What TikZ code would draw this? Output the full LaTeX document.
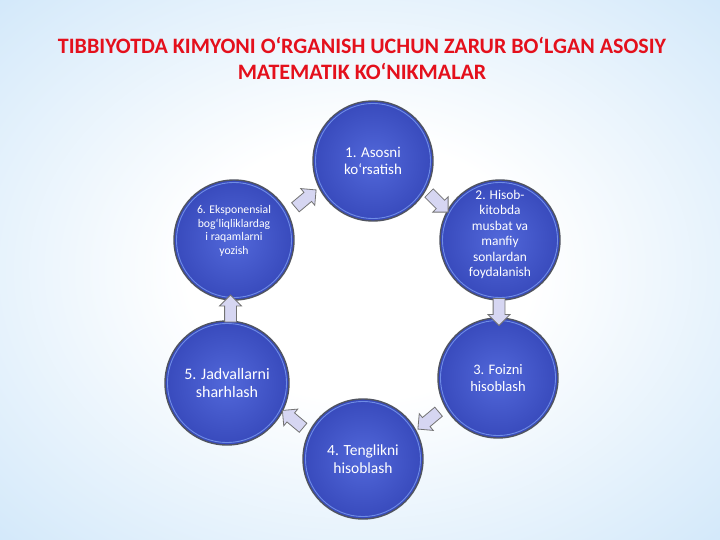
\documentclass[tikz,border=0pt]{standalone}
\usepackage{fontspec}
\setmainfont{Carlito}
\usetikzlibrary{shapes.arrows,calc}
\definecolor{titlered}{RGB}{228,16,28}
\definecolor{ballin}{RGB}{82,104,218}
\definecolor{ballout}{RGB}{56,74,188}
\definecolor{ballring}{RGB}{110,140,230}
\definecolor{rimgray}{RGB}{80,84,96}
\definecolor{flowfill}{RGB}{214,214,242}
\pgfdeclareradialshading{sky}{\pgfpoint{0bp}{0bp}}{%
  color(0bp)=(white); color(12bp)=(white); color(34bp)=(rgb,255:red,214;green,234;blue,250);
  color(55bp)=(rgb,255:red,168;green,210;blue,243); color(70bp)=(rgb,255:red,140;green,195;blue,240)}
% text that does not widen its circle
\newcommand\ballbox[2]{\raisebox{#1}[0pt][0pt]{\makebox[0pt]{\parbox{110pt}{\centering #2}}}}
\begin{document}
\begin{tikzpicture}
    [ x=1pt, y=-1pt
    , stage/.style={circle, minimum size=120pt, inner sep=2pt, inner color=ballin, outer color=ballout,
                    draw=rimgray, line width=1.4pt, text=white, align=center,
                    path picture={\draw[ballring, line width=0.9pt]
                      (path picture bounding box.center) circle (#1);}}
    , stage/.default=57.5pt
    , flow/.style={single arrow, minimum height=27pt, inner sep=5.5pt, single arrow head extend=5pt,
                   fill=flowfill, draw=black!55, line width=0.8pt}
    ]
% background
\shade[shading=sky] (0,0) rectangle (720,540);
\useasboundingbox (0,0) rectangle (720,540);

% title
\node[text=titlered, font=\bfseries\fontsize{22}{26}\selectfont, align=center] (title) at (362,58)
  {TIBBIYOTDA KIMYONI O‘RGANISH UCHUN ZARUR BO‘LGAN ASOSIY\\MATEMATIK KO‘NIKMALAR};

% stages
\node[stage, font=\fontsize{15}{17}\selectfont] (s1) at (373,161) {1. Asosni\\ko‘rsatish};
\node[stage, font=\fontsize{13.4}{15.4}\selectfont] (s2) at (500,240)
  {\ballbox{2pt}{2. Hisob-\\kitobda\\musbat va\\manfiy\\sonlardan\\foydalanish}};
\node[stage, font=\fontsize{14.5}{17}\selectfont] (s3) at (498,378) {3. Foizni\\hisoblash};
\node[stage, font=\fontsize{15.5}{17.5}\selectfont] (s4) at (363,459) {4. Tenglikni\\hisoblash};
\node[stage=59.5pt, minimum size=124pt, font=\fontsize{16}{18}\selectfont] (s5) at (227,383) {5. Jadvallarni\\sharhlash};
\node[stage, font=\fontsize{11.7}{13.6}\selectfont] (s6) at (234,240)
  {\ballbox{6pt}{6. Eksponensial\\bog‘liqliklardag\\i raqamlarni\\yozish}};

% arrows between stages
\foreach \a/\b/\r in {s6/s1/40, s1/s2/-45, s2/s3/-90, s3/s4/-140, s4/s5/140, s5/s6/90}
  \node[flow, rotate=\r] (arr-\a) at ($(\a)!0.5!(\b)$) {};

\end{tikzpicture}
\end{document}
